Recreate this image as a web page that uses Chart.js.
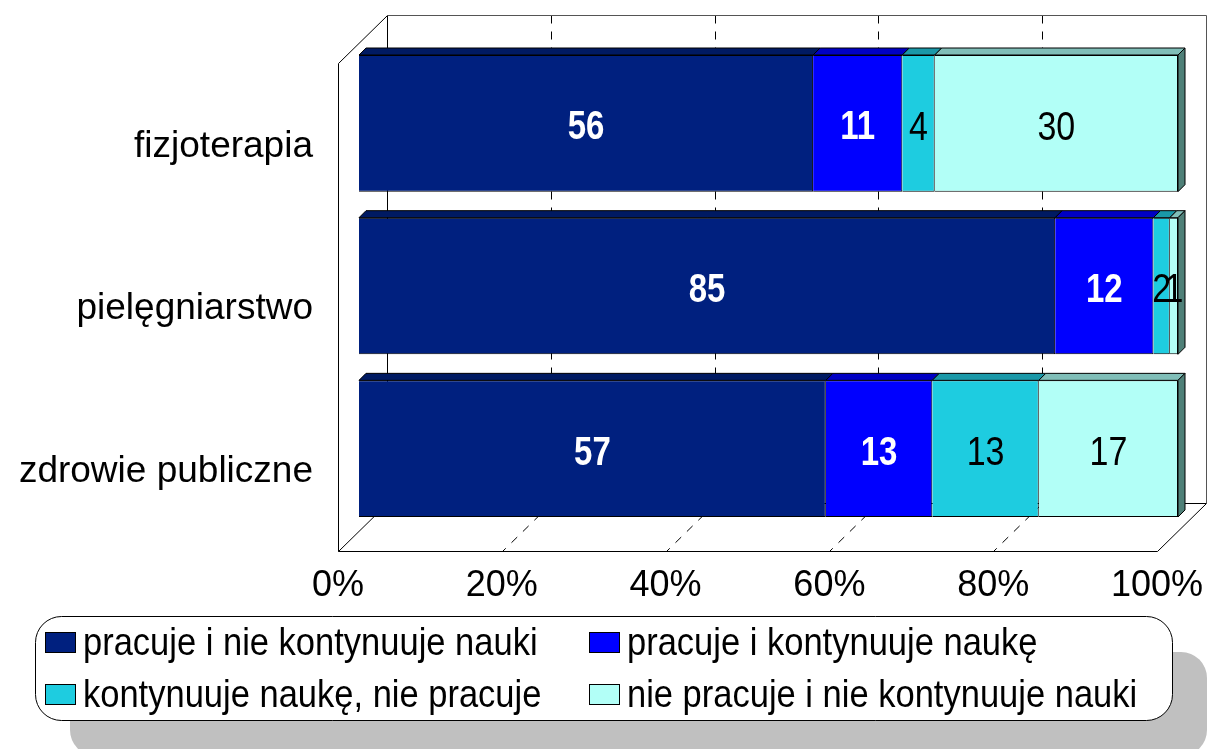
<!DOCTYPE html>
<html>
<head>
<meta charset="utf-8">
<script src="https://cdn.jsdelivr.net/npm/chart.js@4.4.1/dist/chart.umd.min.js"></script>
<style>
    html, body { margin: 0; padding: 0; background: #fff; }
    canvas { display: block; }
</style>
</head>
<body>
<canvas id="canvasChart" width="1209" height="749"></canvas>
<script>
const categories = ["fizjoterapia", "pielęgniarstwo", "zdrowie publiczne"]
const seriesNames = [
    "pracuje i nie kontynuuje nauki",
    "pracuje i kontynuuje naukę",
    "kontynuuje naukę, nie pracuje",
    "nie pracuje i nie kontynuuje nauki"
]
const worksNoStudy = [56, 85, 57]
const worksAndStudies = [11, 12, 13]
const studiesNoWork = [4, 2, 13]
const neither = [30, 1, 17]
const tickValues = [0, 20, 40, 60, 80, 100]

const frontColors = ["#00207f", "#0000ff", "#1ecce0", "#b2fff7"]
const topColors = ["#001a62", "#0000c4", "#1a98a8", "#80beb8"]
const sideColor = "#4f8078"
const labelColors = ["#fff", "#fff", "#000", "#000"]

const FONT = "'Liberation Sans', Arial, sans-serif"
const FRONT = { dx: -21, dy: 21 }
const BACK = { dx: 28, dy: -27 }
const DEPTH = 7

let canvasChart = document.getElementById("canvasChart")
let series = [worksNoStudy, worksAndStudies, studiesNoWork, neither]
let totals = categories.map((_, i) => series.reduce((s, arr) => s + arr[i], 0))

//#region helpers
const line = (ctx, x1, y1, x2, y2) => {
    ctx.beginPath()
    ctx.moveTo(x1, y1)
    ctx.lineTo(x2, y2)
    ctx.stroke()
}

// text in the original is a bit taller than plain Arial
const tallText = (ctx, text, x, y, stretch) => {
    ctx.save()
    ctx.translate(x, y)
    ctx.scale(1, stretch)
    ctx.fillText(text, 0, 0)
    ctx.restore()
}

const noScalePadding = scale => {
    scale.paddingLeft = 0
    scale.paddingRight = 0
    scale.paddingTop = 0
    scale.paddingBottom = 0
}
//#endregion

//#region 3D walls
const wallsPlugin = {
    id: "walls",
    beforeDatasetsDraw: chart => {
        const { ctx, chartArea: a, scales: { x } } = chart
        const fl = a.left + FRONT.dx, fr = a.right + FRONT.dx, ft = a.top + FRONT.dy, fb = a.bottom + FRONT.dy
        const bl = a.left + BACK.dx, br = a.right + BACK.dx, bt = a.top + BACK.dy, bb = a.bottom + BACK.dy
        ctx.save()
        ctx.translate(0.5, 0.5)
        ctx.strokeStyle = "#000"
        ctx.lineWidth = 1

        ctx.setLineDash([8, 8])
        tickValues.slice(1, -1).forEach(v => {
            const px = Math.round(x.getPixelForValue(v))
            line(ctx, px + BACK.dx, bt, px + BACK.dx, bb)
            line(ctx, px + BACK.dx, bb, px + FRONT.dx, fb)
        })
        ctx.setLineDash([])

        line(ctx, bl, bt, bl, bb)
        line(ctx, bl, bb, br, bb)
        line(ctx, fl, ft, bl, bt)
        line(ctx, fl, ft, fl, fb)
        line(ctx, fl, fb, fr, fb)
        line(ctx, fl, fb, bl, bb)
        line(ctx, fr, fb, br, bb)
        ctx.strokeStyle = "#555"
        line(ctx, bl, bt, br, bt)
        line(ctx, br, bt, br, bb)
        ctx.restore()
    },
    afterDatasetsDraw: chart => {
        const { ctx } = chart
        const last = chart.data.datasets.length - 1
        ctx.save()
        ctx.strokeStyle = "#000"
        ctx.lineWidth = 1
        chart.data.datasets.forEach((ds, di) => {
            chart.getDatasetMeta(di).data.forEach(bar => {
                const { x, base, y, height } = bar.getProps(["x", "base", "y", "height"], true)
                const top = y - height / 2, bottom = y + height / 2
                ctx.fillStyle = topColors[di]
                ctx.beginPath()
                ctx.moveTo(base, top)
                ctx.lineTo(x, top)
                ctx.lineTo(x + DEPTH, top - DEPTH)
                ctx.lineTo(base + DEPTH, top - DEPTH)
                ctx.closePath()
                ctx.fill()
                ctx.stroke()
                if (di === last) {
                    ctx.fillStyle = sideColor
                    ctx.beginPath()
                    ctx.moveTo(x, top)
                    ctx.lineTo(x + DEPTH, top - DEPTH)
                    ctx.lineTo(x + DEPTH, bottom - DEPTH)
                    ctx.lineTo(x, bottom)
                    ctx.closePath()
                    ctx.fill()
                    ctx.stroke()
                }
            })
        })

        // value labels
        ctx.textAlign = "center"
        ctx.textBaseline = "middle"
        chart.data.datasets.forEach((ds, di) => {
            ctx.fillStyle = labelColors[di]
            ctx.font = di < 2 ? `bold 33px ${FONT}` : `34px ${FONT}`
            chart.getDatasetMeta(di).data.forEach((bar, i) => {
                const { x, base, y } = bar.getProps(["x", "base", "y"], true)
                tallText(ctx, String(series[di][i]), (x + base) / 2, y + 5, 1.22)
            })
        })
        ctx.restore()
    }
}
//#endregion

//#region Legend
const legendPlugin = {
    id: "boxLegend",
    afterDraw: chart => {
        const { ctx } = chart
        const box = { x: 35, y: 616, w: 1137, h: 104, r: 26 }
        ctx.save()
        ctx.fillStyle = "#c0c0c0"
        ctx.beginPath()
        ctx.roundRect(box.x + 35, box.y + 36, box.w, box.h, box.r)
        ctx.fill()
        ctx.fillStyle = "#fff"
        ctx.strokeStyle = "#000"
        ctx.lineWidth = 1
        ctx.beginPath()
        ctx.roundRect(box.x + 0.5, box.y + 0.5, box.w, box.h, box.r)
        ctx.fill()
        ctx.stroke()

        const cols = [45, 589]
        const rows = [642, 694]
        ctx.font = `34.5px ${FONT}`
        ctx.textBaseline = "middle"
        ctx.textAlign = "left"
        seriesNames.forEach((name, i) => {
            const cx = cols[i % 2], cy = rows[Math.floor(i / 2)]
            ctx.fillStyle = frontColors[i]
            ctx.fillRect(cx, cy - 10, 30, 20)
            ctx.strokeRect(cx + 0.5, cy - 9.5, 30, 20)
            ctx.fillStyle = "#000"
            tallText(ctx, name, cx + 38, cy + 3, 1.1)
        })
        ctx.restore()
    }
}
//#endregion

//#region ChartJs
new Chart(canvasChart, {
    type: "bar",
    data: {
        labels: categories,
        datasets: series.map((arr, di) => ({
            label: seriesNames[di],
            data: arr.map((v, i) => v / totals[i] * 100),
            backgroundColor: frontColors[di],
            borderColor: "#000",
            borderWidth: 1,
            categoryPercentage: 1,
            barPercentage: 0.84
        }))
    },
    options: {
        indexAxis: "y",
        responsive: false,
        animation: false,
        layout: {
            autoPadding: false,
            padding: { top: 42, right: 31, bottom: 0, left: 0 }
        },
        plugins: {
            legend: { display: false },
            tooltip: { enabled: false }
        },
        scales: {
            x: {
                stacked: true,
                min: 0,
                max: 100,
                grid: { display: false, drawTicks: false },
                border: { display: false },
                afterBuildTicks: scale => { scale.ticks = tickValues.map(value => ({ value })) },
                afterFit: scale => {
                    scale.height = 219
                    noScalePadding(scale)
                },
                ticks: {
                    callback: v => v + "%",
                    color: "#000",
                    font: { family: FONT, size: 36 },
                    padding: 34,
                    labelOffset: FRONT.dx,
                    maxRotation: 0,
                    autoSkip: false
                }
            },
            y: {
                stacked: true,
                grid: { display: false, drawTicks: false },
                border: { display: false },
                afterFit: scale => {
                    scale.width = 359
                    noScalePadding(scale)
                },
                ticks: {
                    color: "#000",
                    font: { family: FONT, size: 37 },
                    padding: 46,
                    labelOffset: FRONT.dy + 2
                }
            }
        }
    },
    plugins: [wallsPlugin, legendPlugin]
})
//#endregion
</script>
</body>
</html>
